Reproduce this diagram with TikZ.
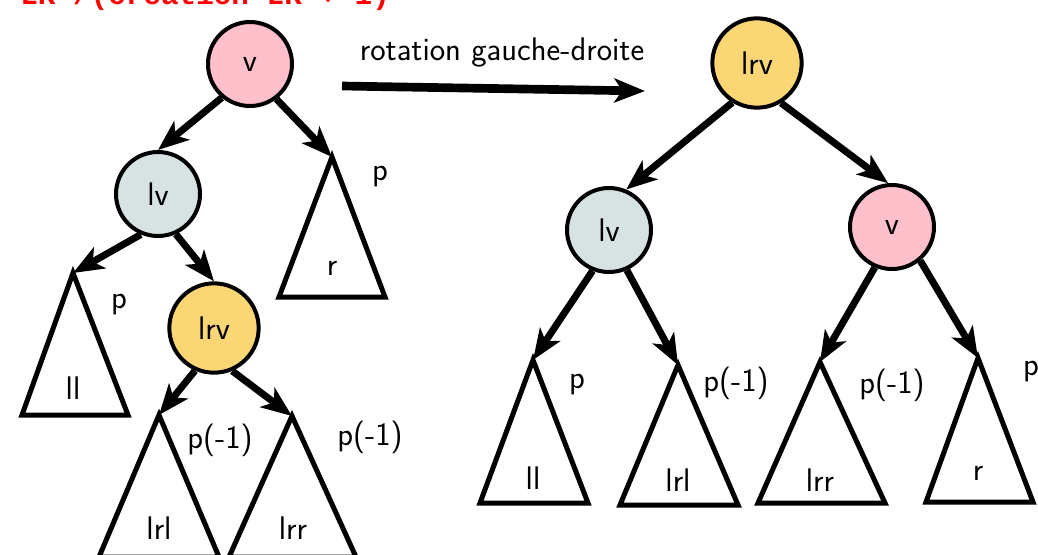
\documentclass[tikz,border=0pt]{standalone}
\usepackage{fontspec}
\newfontfamily\monob{Liberation Mono}
\usetikzlibrary{arrows.meta}
\definecolor{pinkv}{HTML}{FFC0CB}
\definecolor{greylv}{HTML}{D7E3E3}
\definecolor{goldlrv}{HTML}{FBD675}
\begin{document}
\begin{tikzpicture}[x=0.75pt,y=-0.75pt,
  lab/.style={font=\sffamily\fontsize{24.5}{28}\selectfont, inner sep=0pt},
  nd/.style={circle, draw, line width=3pt, minimum size=63pt, inner sep=0pt,
             font=\sffamily\fontsize{24.5}{28}\selectfont},
  ndv/.style={nd, fill=pinkv},
  ndlv/.style={nd, fill=greylv},
  ndlrv/.style={nd, fill=goldlrv, minimum size=67pt},
  tri/.style={line width=3.75pt, line join=miter},
  arr/.style={line width=5.25pt, -{Stealth[length=23pt,width=18pt,inset=6pt]}}]
\useasboundingbox (0,0) rectangle (1038,554);

% heading (cut off at top)
\node[anchor=base west, inner sep=0pt, text=red,
      font=\monob\bfseries\fontsize{22}{26}\selectfont] (head) at (20,4)
      {LR /(création LR + 1)};

% ---------- left tree ----------
\node[ndv]   (v1)   at (250,64)  {v};
\node[ndlv]  (lv1)  at (158,194) {lv};
\node[ndlrv] (lrv1) at (214,328) {lrv};

\coordinate (r1)   at (332,157);
\coordinate (ll1)  at (73,273);
\coordinate (lrl1) at (159,415);
\coordinate (lrr1) at (292,416);

\draw[tri] (r1) -- (279,297) -- (385,297) -- cycle;
\draw[tri] (ll1) -- (22,415) -- (128,415) -- cycle;
\draw[tri] (lrl1) -- (99,557) -- (219,557) -- cycle;
\draw[tri] (lrr1) -- (229,557) -- (356,557) -- cycle;

\node[lab] (tr1)   at (332,268) {r};
\node[lab] (pr1)   at (380,177) {p};
\node[lab] (tll1)  at (73,388)  {ll};
\node[lab] (pll1)  at (119,305) {p};
\node[lab] (tlrl1) at (159,528) {lrl};
\node[lab] (plrl1) at (220,440) {p(-1)};
\node[lab] (tlrr1) at (293,528) {lrr};
\node[lab] (plrr1) at (370,437) {p(-1)};

\draw[arr] (v1.230) -- (lv1.north);
\draw[arr] (v1.307) -- (r1);
\draw[arr] (lv1.247) -- (ll1);
\draw[arr] (lv1.294) -- (lrv1.north);
\draw[arr] (lrv1.246) -- (lrl1);
\draw[arr] (lrv1.293) -- (lrr1);

% ---------- rotation arrow ----------
\coordinate (ra) at (342,86);
\coordinate (rb) at (645,91);
\draw[arr, line width=6.5pt] (ra) -- (rb);
\node[lab] (rot) at (502,52) {rotation gauche-droite};

% ---------- right tree ----------
\node[ndlrv] (lrv2) at (757,63)  {lrv};
\node[ndlv]  (lv2)  at (609,230) {lv};
\node[ndv]   (v2)   at (892,227) {v};

\coordinate (ll2)  at (533,360);
\coordinate (lrl2) at (678,365);
\coordinate (lrr2) at (820,362);
\coordinate (r2)   at (978,358);

\draw[tri] (ll2) -- (480,503) -- (588,503) -- cycle;
\draw[tri] (lrl2) -- (620,505) -- (738,505) -- cycle;
\draw[tri] (lrr2) -- (758,503) -- (885,503) -- cycle;
\draw[tri] (r2) -- (926,502) -- (1033,502) -- cycle;

\node[lab] (tll2)  at (533,478) {ll};
\node[lab] (pll2)  at (577,385) {p};
\node[lab] (tlrl2) at (678,480) {lrl};
\node[lab] (plrl2) at (736,383) {p(-1)};
\node[lab] (tlrr2) at (820,480) {lrr};
\node[lab] (plrr2) at (892,385) {p(-1)};
\node[lab] (tr2)   at (978,473) {r};
\node[lab] (pr2)   at (1031,372) {p};

\draw[arr] (lrv2.238) -- (lv2.67);
\draw[arr] (lrv2.301) -- (v2.95);
\draw[arr] (lv2.248) -- (ll2);
\draw[arr] (lv2.294) -- (lrl2);
\draw[arr] (v2.247) -- (lrr2);
\draw[arr] (v2.310) -- (r2);
\end{tikzpicture}
\end{document}
